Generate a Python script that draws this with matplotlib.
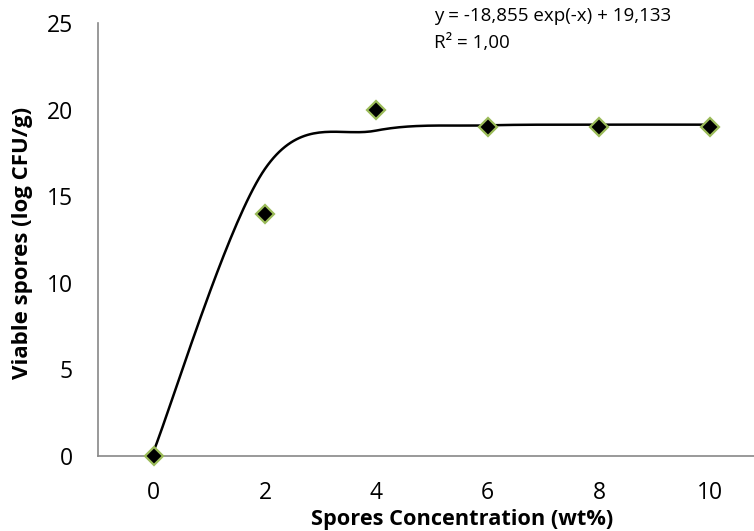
import numpy as np
from matplotlib import pyplot as plt

# Measured points
conc = [0, 2, 4, 6, 8, 10]
viable = [0, 14, 20, 19, 19, 19]

# Trend line values read at the same x positions (smoothed in the chart)
trend_x = [0, 2, 4, 6, 8, 10]
trend_y = [0.28, 16.58, 18.79, 19.09, 19.13, 19.13]

x_ticks = [0, 2, 4, 6, 8, 10]
y_ticks = [0, 5, 10, 15, 20, 25]

equation = "y = -18,855 exp(-x) + 19,133"
r_squared = "R² = 1,00"


def smooth_line(xs, ys, steps=40):
    """Bezier smoothing through the points, like a spreadsheet smoothed line."""
    px, py = np.array(xs, float), np.array(ys, float)
    n = len(px)
    out_x, out_y = [], []
    for i in range(n - 1):
        p0 = np.array([px[max(i - 1, 0)], py[max(i - 1, 0)]])
        p1 = np.array([px[i], py[i]])
        p2 = np.array([px[i + 1], py[i + 1]])
        p3 = np.array([px[min(i + 2, n - 1)], py[min(i + 2, n - 1)]])
        c1 = p1 + (p2 - p0) / 6
        c2 = p2 - (p3 - p1) / 6
        t = np.linspace(0, 1, steps)[:, None]
        seg = ((1 - t) ** 3) * p1 + 3 * ((1 - t) ** 2) * t * c1 \
            + 3 * (1 - t) * t ** 2 * c2 + t ** 3 * p2
        out_x.extend(seg[:, 0])
        out_y.extend(seg[:, 1])
    return out_x, out_y


plt.rcParams['font.family'] = ['Open Sans', 'DejaVu Sans']

fig = plt.figure(figsize=(7.54, 5.31), dpi=100)
ax = fig.add_axes([98 / 754, 75 / 531, 668 / 754, 433 / 531])

sx, sy = smooth_line(trend_x, trend_y)
ax.plot(sx, sy, color='black', lw=1.8, zorder=2, clip_on=False)
ax.plot(conc, viable, linestyle='none', marker='D', markersize=9,
        markerfacecolor='black', markeredgecolor='#9BBB59',
        markeredgewidth=1.6, zorder=3, clip_on=False)

ax.set_xlim(-1, 11)
ax.set_ylim(0, 25)
ax.set_xticks(x_ticks)
ax.set_yticks(y_ticks)
ax.tick_params(axis='both', length=0, labelsize=16.5, colors='black')
ax.tick_params(axis='x', pad=18)
ax.tick_params(axis='y', pad=18)

for side in ['top', 'right']:
    ax.spines[side].set_visible(False)
for side in ['left', 'bottom']:
    ax.spines[side].set_color('#888888')
    ax.spines[side].set_linewidth(1.2)

fig.text(462 / 754, 1 - 520 / 531, "Spores Concentration (wt%)",
         ha='center', va='center', fontsize=15.7, fontweight='bold')
fig.text(23 / 754, 1 - 243 / 531, "Viable spores (log CFU/g)",
         ha='center', va='center', fontsize=16, fontweight='bold',
         rotation=90)

fig.text(434 / 754, 1 - 16 / 531, equation, ha='left', va='center',
         fontsize=13.5)
fig.text(434 / 754, 1 - 43 / 531, r_squared, ha='left', va='center',
         fontsize=13.5)

fig.savefig('out.png', dpi=100)
